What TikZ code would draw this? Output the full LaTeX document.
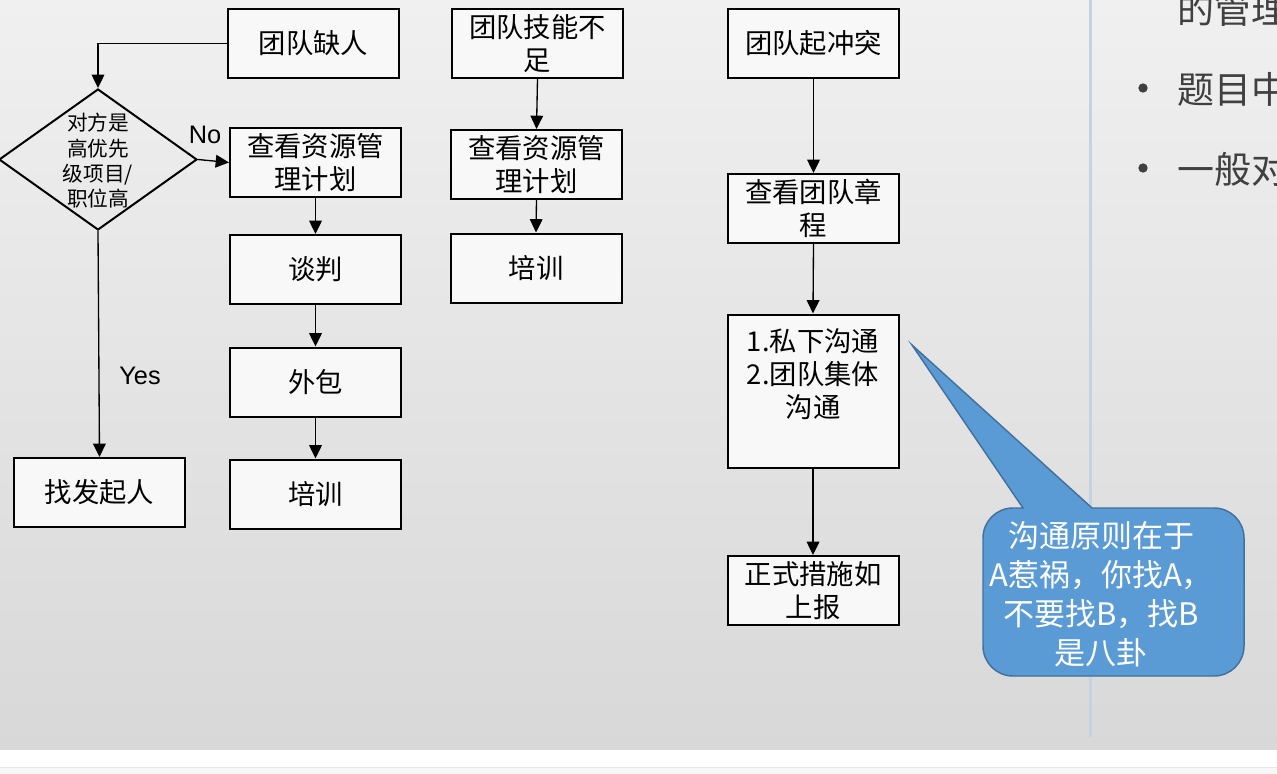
\documentclass[tikz,border=0pt]{standalone}
\usepackage{fontspec}
\setmainfont{Noto Sans CJK SC}
\newfontfamily\latfont{Liberation Sans}
\usetikzlibrary{arrows.meta,shapes.geometric}
\definecolor{bgtop}{HTML}{F0F0F0}
\definecolor{bgbot}{HTML}{D8D8D8}
\definecolor{boxfill}{HTML}{F8F8F8}
\definecolor{notefill}{HTML}{5B9BD5}
\definecolor{noteline}{HTML}{41719C}
\definecolor{sidetext}{HTML}{404040}
\definecolor{sideline}{HTML}{C3D3E4}
\definecolor{footfill}{HTML}{F7F7F7}
\definecolor{footline}{HTML}{E6E6E6}
\tikzset{>={Triangle[length=10pt,width=9.5pt]}}
\tikzset{
  box/.style={draw, line width=1.5pt, fill=boxfill, minimum width=128.25pt,
    minimum height=51.75pt, inner sep=2pt, align=center,
    font=\fontsize{20.5}{24.75}\selectfont},
  dec/.style={diamond, draw, line width=1.5pt, minimum width=148.5pt,
    minimum height=105.75pt, inner sep=0pt},
  arr/.style={->, line width=1pt},
  lab/.style={font=\latfont\fontsize{19}{22}\selectfont},
  side/.style={anchor=west, inner sep=0pt, text=sidetext, font=\fontsize{27.75}{30}\selectfont},
  bullet/.style={circle, fill=sidetext, inner sep=0pt, minimum size=7pt},
}

\begin{document}
\begin{tikzpicture}[x=0.75pt,y=-0.75pt]
\useasboundingbox (0,0) rectangle (1277,774);
\shade[top color=bgtop, bottom color=bgbot] (0,0) rectangle (1277,750);
\fill[white] (0,750) rectangle (1277,767);
\fill[footfill] (0,767) rectangle (1277,774);
\draw[footline] (0,767) -- (1277,767);
\draw[sideline, line width=2.25pt] (1090,0) -- (1090,737);

\node[side] (t1) at (1177,9) {的管理};
\node[bullet] (b2) at (1143,88) {};
\node[side] (t2) at (1177,89) {题目中};
\node[bullet] (b3) at (1143,168) {};
\node[side] (t3) at (1177,169) {一般对};

\node[box] (quer) at (313.5,43.5) {团队缺人};
\node[dec] (dec) at (98,159.5) {};
\node[align=center, font=\fontsize{15.5}{19}\selectfont] (decq) at (98,161) {对方是\\高优先\\级项目/\\职位高};
\node[box] (plan1) at (315.5,162.5) {查看资源管\\理计划};
\node[box] (nego) at (315.5,269.5) {谈判};
\node[box] (outs) at (315.5,382) {外包};
\node[box] (train1) at (315.5,494) {培训};
\node[box] (find) at (99.5,492.5) {找发起人};
\node[lab] (no) at (205,135) {No};
\node[lab] (yes) at (140,376) {Yes};

\node[box] (skill) at (537.5,43.5) {团队技能不\\足};
\node[box] (plan2) at (536.5,164.5) {查看资源管\\理计划};
\node[box] (train2) at (536,268) {培训};

\node[box] (conf) at (813.5,43.5) {团队起冲突};
\node[box] (charter) at (813.5,208.5) {查看团队章\\程};
\node[box, minimum height=114.75pt, text height=74.5pt, text depth=34.75pt] (talk) at (813,391) {1.私下沟通\\2.团队集体\\沟通};
\node[box] (report) at (813,590.5) {正式措施如\\上报};

\draw[arr] (quer.west) -| (dec.north);
\draw[arr] (dec.east) -- (plan1.west);
\draw[arr] (dec.south) -- (find.north);
\draw[arr] (plan1.south) -- (nego.north);
\draw[arr] (nego.south) -- (outs.north);
\draw[arr] (outs.south) -- (train1.north);
\draw[arr] (skill.south) -- (plan2.north);
\draw[arr] (plan2.south) -- (train2.north);
\draw[arr] (conf.south) -- (charter.north);
\draw[arr] (charter.south) -- (talk.north);
\draw[arr] (talk.south) -- (report.north);

\coordinate (tip) at (912,345);
\filldraw[fill=notefill, draw=noteline, line width=1.1pt] (tip) -- (1023,508) -- (1013,508)
  .. controls (996.4,508) and (983,521.4) .. (983,538) -- (983,646)
  .. controls (983,662.6) and (996.4,676) .. (1013,676) -- (1214,676)
  .. controls (1230.6,676) and (1244,662.6) .. (1244,646) -- (1244,538)
  .. controls (1244,521.4) and (1230.6,508) .. (1214,508) -- (1092,508) -- cycle;
\node[align=center, text=white, font=\fontsize{23.25}{29.25}\selectfont] (note) at (1101,594) {沟通原则在于\\A惹祸，你找A，\\不要找B，找B\\是八卦};
\end{tikzpicture}
\end{document}
